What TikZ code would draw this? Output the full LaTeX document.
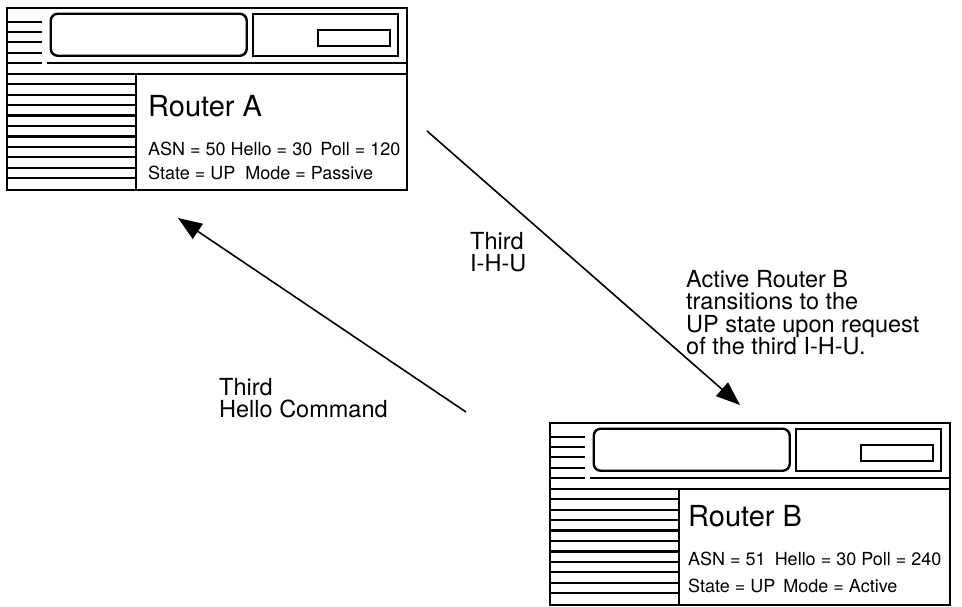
\documentclass[tikz,border=0pt]{standalone}
\usepackage{fontspec}
\setmainfont{TeX Gyre Heros}
\usetikzlibrary{arrows.meta}

\begin{document}
\begin{tikzpicture}[
  x=1pt, y=-1pt,
  routerframe/.style={draw, line width=2.5pt, minimum width=400pt, minimum height=182pt, inner sep=0pt},
  part/.style={draw, line width=2.4pt},
  stripe/.style={line width=2.2pt},
  title/.style={font=\fontsize{29}{31}\selectfont, anchor=base west, inner sep=0pt},
  param/.style={font=\fontsize{18}{20}\selectfont, anchor=base west, inner sep=0pt},
  lbl/.style={font=\fontsize{23.5}{22.5}\selectfont, align=left, anchor=north west, inner sep=0pt},
  arr/.style={-{Triangle[length=24pt,width=18pt]}, line width=1.6pt}
]
\useasboundingbox (0,0) rectangle (962,607);

% the two router chassis
\node[routerframe] (ra) at (207,99) {};
\node[routerframe] (rb) at (750,514) {};

% panel details, drawn once per chassis
\foreach \r in {ra,rb}{
  \begin{scope}[shift={(\r.north west)}]
    \foreach \y in {15,25,35,46,56}
      \draw[stripe] (0,\y) -- (36,\y);
    \draw[stripe] (41,56) -- (400,56);
    \draw[stripe] (0,67) -- (400,67);
    \draw[part, rounded corners=7pt] (45,7) rectangle (241,49);
    \draw[part] (247,7) rectangle (392,49);
    \draw[part] (312,23) rectangle (384,39);
    \foreach \k in {1,...,10}
      \draw[stripe] (0,67+\k*10.45) -- (130,67+\k*10.45);
    \draw[stripe] (130,67) -- (130,182);
  \end{scope}
}

% router A settings
\node[title] (ra-name) at (148,117) {Router A};
\node[param] (ra-asn) at (148,156) {ASN = 50\hspace{5pt}Hello = 30\hspace{8pt}Poll = 120};
\node[param] (ra-state) at (148,180) {State = UP\hspace{10pt}Mode = Passive};

% router B settings
\node[title] (rb-name) at (688,526) {Router B};
\node[param] (rb-asn) at (688,565) {ASN = 51\hspace{9pt}Hello = 30\hspace{5pt}Poll = 240};
\node[param] (rb-state) at (688,592) {State = UP\hspace{8pt}Mode = Active};

% message exchange
\coordinate (ra-out) at (427,131);
\coordinate (rb-in) at (740,405);
\coordinate (rb-out) at (466,412);
\coordinate (ra-in) at (178,218);
\draw[arr] (ra-out) -- (rb-in);
\draw[arr] (rb-out) -- (ra-in);

\node[lbl] (ihu) at (470,232) {Third\\I-H-U};
\node[lbl] (note) at (686,270) {Active Router B\\transitions to the\\UP state upon request\\of the third I-H-U.};
\node[lbl] (hello) at (219,378) {Third\\Hello Command};
\end{tikzpicture}
\end{document}
